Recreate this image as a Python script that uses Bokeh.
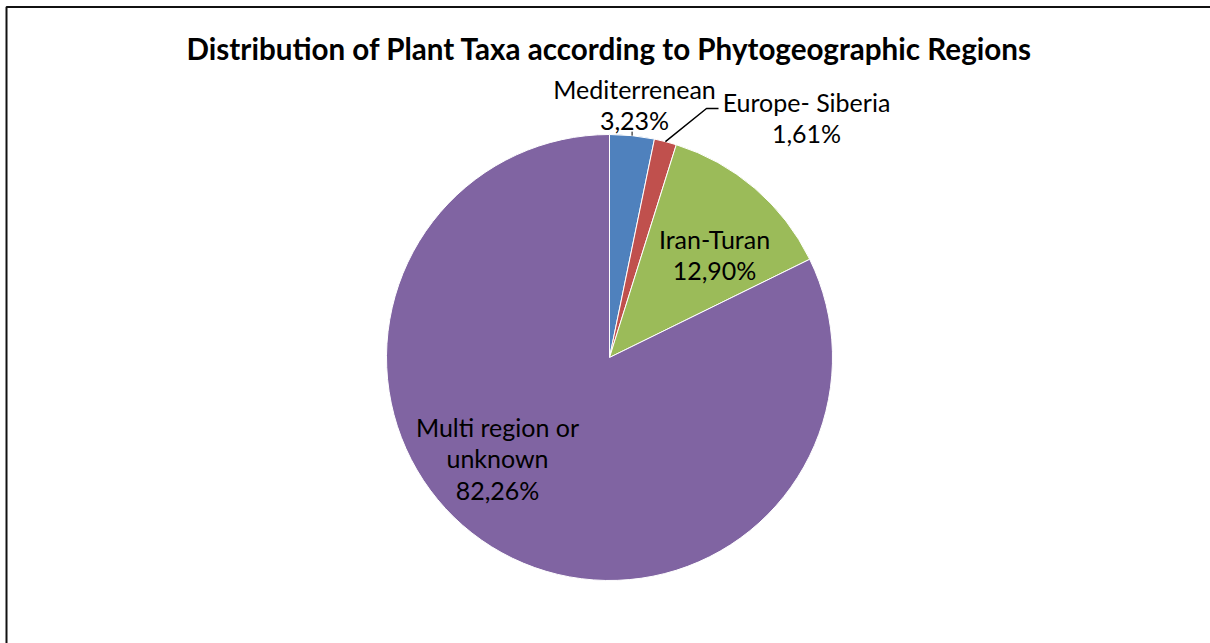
import math
from bokeh.plotting import figure
from bokeh.models import Range1d, ColumnDataSource
from bokeh.core.properties import value
from bokeh.embed import file_html
from bokeh.resources import INLINE

# Phytogeographic distribution of plant taxa (percent)
regions = ["Mediterrenean", "Europe- Siberia", "Iran-Turan", "Multi region or unknown"]
shares = [3.23, 1.61, 12.90, 82.26]
label_texts = ["Mediterrenean\n3,23%", "Europe- Siberia\n1,61%", "Iran-Turan\n12,90%",
               "Multi region or\nunknown\n82,26%"]
colors = ["#4F81BD", "#C0504D", "#9BBB59", "#8064A2"]

W, H = 1210, 643
FONT = "Lato"

p = figure(width=W, height=H, output_backend="svg", toolbar_location=None,
           x_range=Range1d(0, W), y_range=Range1d(0, H), min_border=0,
           match_aspect=False)
p.axis.visible = False
p.grid.visible = False
p.outline_line_color = None
p.background_fill_color = "white"

# pie geometry (1 data unit = 1 pixel, y measured upward)
cx, cy, r = 609, H - 357, 223

total = sum(shares)
starts, ends, mids = [], [], []
a = math.pi / 2
for s in shares:
    sweep = 2 * math.pi * s / total
    starts.append(a - sweep)
    ends.append(a)
    mids.append(a - sweep / 2)
    a -= sweep

src = ColumnDataSource(dict(start=starts, end=ends, color=colors, region=regions))
p.wedge(x=cx, y=cy, radius=r, start_angle="start", end_angle="end",
        fill_color="color", line_color="white", line_width=1, source=src)

# label anchor offsets from the pie centre (pixels, right/down)
label_dx = [25, 197, 105, -112]
label_dy = [-253, -240, -103, 101]
lx = [cx + dx for dx in label_dx]
ly = [cy - dy for dy in label_dy]
p.text(x=lx, y=ly, text=label_texts, text_align="center", text_baseline="middle",
       text_font=value(FONT), text_font_size="25px", text_color="black",
       text_line_height=1.04)

# leader lines for the two thin slices
m0, m1 = mids[0], mids[1]
p.line([cx + r * math.cos(m0), cx + r * math.cos(m0)],
       [cy + r * math.sin(m0), cy + r * math.sin(m0) + 4], line_color="black", line_width=1)
p.line([cx + r * math.cos(m1), 706, 718],
       [cy + r * math.sin(m1), H - 108, H - 108], line_color="black", line_width=1.5)

# title
p.text(x=[cx], y=[H - 48], text=["Distribution of Plant Taxa according to Phytogeographic Regions"],
       text_align="center", text_baseline="middle", text_font=value(FONT),
       text_font_style="bold", text_font_size="29.6px", text_color="black")

# chart border
p.line([6, 6, W + 20], [-20, H - 6.5, H - 6.5], line_color="#111111", line_width=2)

open("out.html", "w").write(file_html(p, INLINE))
